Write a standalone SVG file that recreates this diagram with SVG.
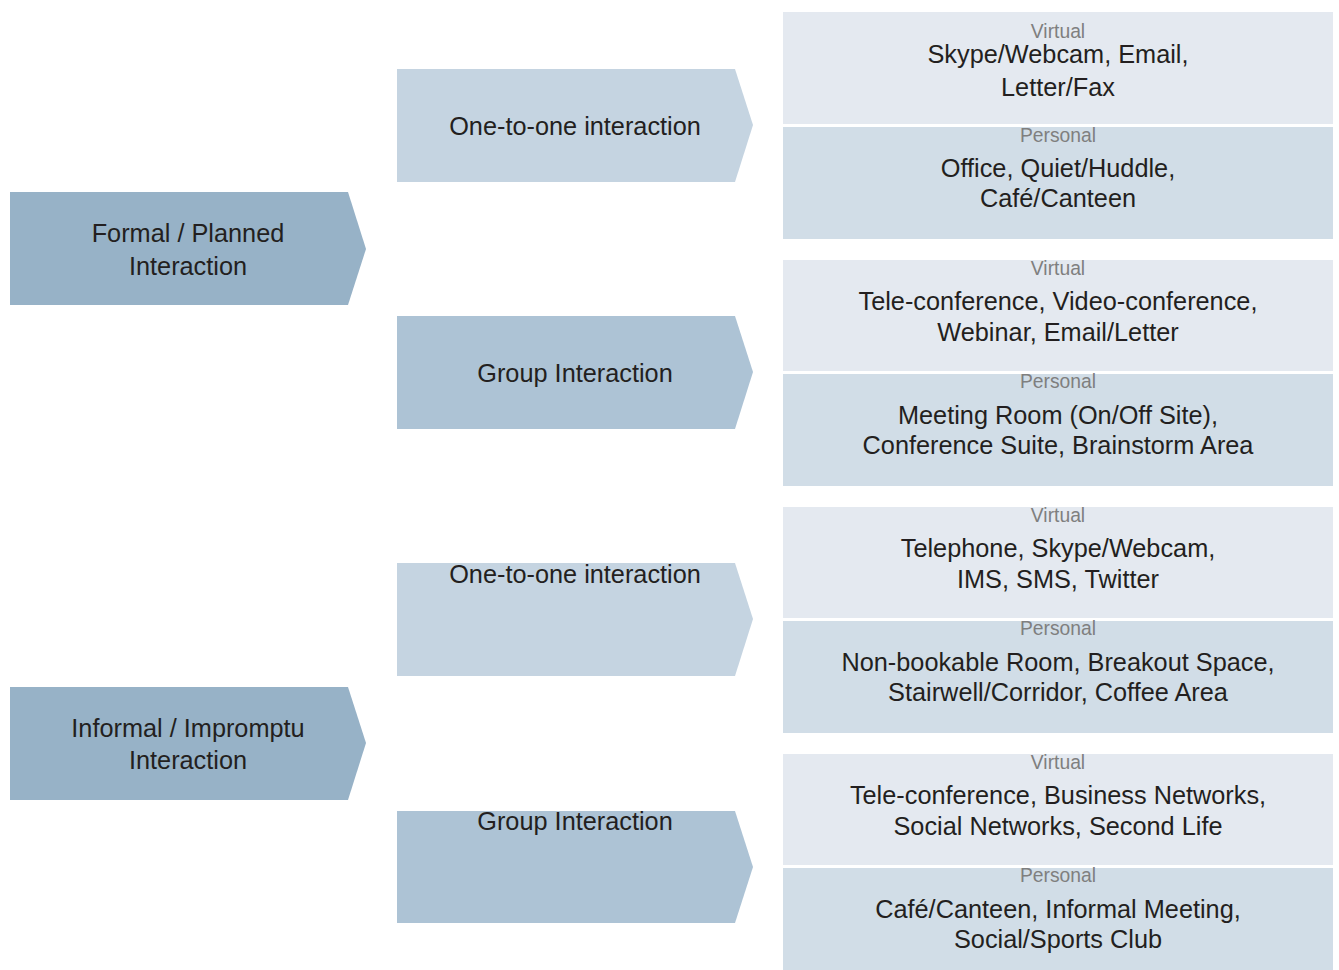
<svg xmlns="http://www.w3.org/2000/svg" width="1339" height="970" viewBox="0 0 1339 970">
<style>
text{font-family:"Liberation Sans","DejaVu Sans",sans-serif;text-anchor:middle;fill:#231f20;font-size:25.3px}
.s{font-size:19.3px;fill:#7f7f7f}
.big{fill:#97b2c7}
.one{fill:#c5d4e1}
.grp{fill:#adc3d5}
.v{fill:#e4e9f0}
.p{fill:#d1dde7}
</style>
<rect width="1339" height="970" fill="#ffffff"/>
<g id="formal">
<polygon class="big" points="10,192 348,192 366,249 348,305 10,305"/>
<text x="188" y="242">Formal / Planned</text>
<text x="188" y="275">Interaction</text>
</g>
<g id="informal">
<polygon class="big" points="10,687 348,687 366,743 348,800 10,800"/>
<text x="188" y="737">Informal / Impromptu</text>
<text x="188" y="769">Interaction</text>
</g>
<g id="formal-one">
<polygon class="one" points="397,69 735,69 753,125 735,182 397,182"/>
<text x="575" y="135">One-to-one interaction</text>
</g>
<g id="formal-group">
<polygon class="grp" points="397,316 735,316 753,372 735,429 397,429"/>
<text x="575" y="382">Group Interaction</text>
</g>
<g id="informal-one">
<polygon class="one" points="397,563 735,563 753,619 735,676 397,676"/>
<text x="575" y="583">One-to-one interaction</text>
</g>
<g id="informal-group">
<polygon class="grp" points="397,811 735,811 753,867 735,923 397,923"/>
<text x="575" y="830">Group Interaction</text>
</g>
<g id="box1">
<rect class="v" x="783" y="12" width="550" height="112"/>
<text class="s" x="1058" y="38">Virtual</text>
<text x="1058" y="63">Skype/Webcam, Email,</text>
<text x="1058" y="96">Letter/Fax</text>
<rect class="p" x="783" y="127" width="550" height="112"/>
<text class="s" x="1058" y="142">Personal</text>
<text x="1058" y="177">Office, Quiet/Huddle,</text>
<text x="1058" y="207">Café/Canteen</text>
</g>
<g id="box2">
<rect class="v" x="783" y="260" width="550" height="111"/>
<text class="s" x="1058" y="275">Virtual</text>
<text x="1058" y="310">Tele-conference, Video-conference,</text>
<text x="1058" y="341">Webinar, Email/Letter</text>
<rect class="p" x="783" y="374" width="550" height="112"/>
<text class="s" x="1058" y="388">Personal</text>
<text x="1058" y="424">Meeting Room (On/Off Site),</text>
<text x="1058" y="454">Conference Suite, Brainstorm Area</text>
</g>
<g id="box3">
<rect class="v" x="783" y="507" width="550" height="111"/>
<text class="s" x="1058" y="522">Virtual</text>
<text x="1058" y="557">Telephone, Skype/Webcam,</text>
<text x="1058" y="588">IMS, SMS, Twitter</text>
<rect class="p" x="783" y="621" width="550" height="112"/>
<text class="s" x="1058" y="635">Personal</text>
<text x="1058" y="671">Non-bookable Room, Breakout Space,</text>
<text x="1058" y="701">Stairwell/Corridor, Coffee Area</text>
</g>
<g id="box4">
<rect class="v" x="783" y="754" width="550" height="111"/>
<text class="s" x="1058" y="769">Virtual</text>
<text x="1058" y="804">Tele-conference, Business Networks,</text>
<text x="1058" y="835">Social Networks, Second Life</text>
<rect class="p" x="783" y="868" width="550" height="102"/>
<text class="s" x="1058" y="882">Personal</text>
<text x="1058" y="918">Café/Canteen, Informal Meeting,</text>
<text x="1058" y="948">Social/Sports Club</text>
</g>
<g id="connectors"></g>
</svg>
